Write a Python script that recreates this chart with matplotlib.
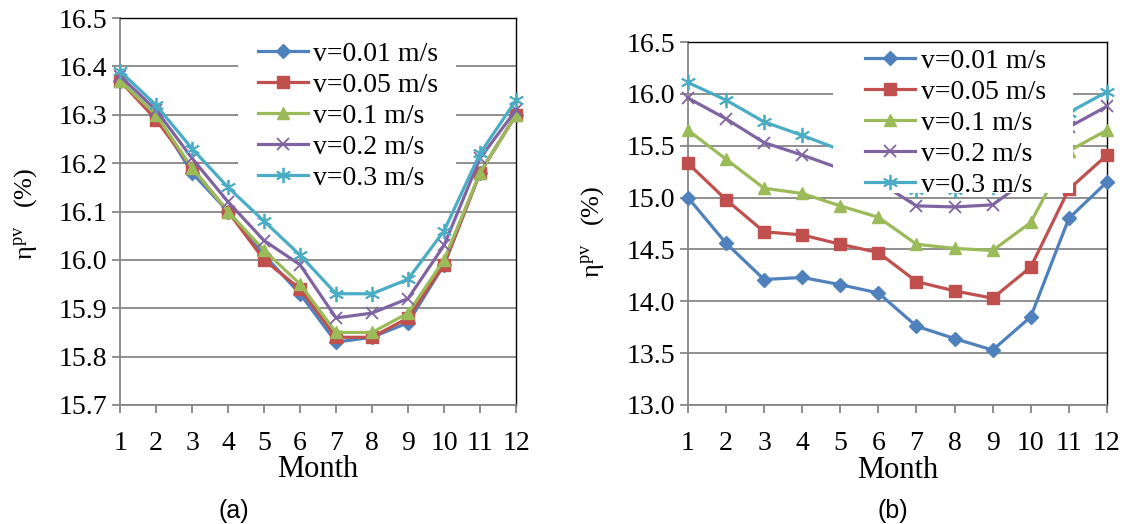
import numpy as np
import matplotlib
matplotlib.use('Agg')
import matplotlib.pyplot as plt
from matplotlib.patches import Rectangle
from matplotlib.ticker import MultipleLocator, FormatStrFormatter

# ─── Data ────────────────────────────────────────────────────────────────
months = list(range(1, 13))
labels = ["v=0.01 m/s", "v=0.05 m/s", "v=0.1 m/s", "v=0.2 m/s", "v=0.3 m/s"]

# panel (a)
a_v001 = [16.37, 16.30, 16.18, 16.10, 16.01, 15.93, 15.83, 15.84, 15.87, 15.99, 16.18, 16.30]
a_v005 = [16.37, 16.29, 16.19, 16.10, 16.00, 15.94, 15.84, 15.84, 15.88, 15.99, 16.18, 16.30]
a_v01 = [16.37, 16.30, 16.19, 16.10, 16.02, 15.95, 15.85, 15.85, 15.89, 16.00, 16.18, 16.30]
a_v02 = [16.38, 16.31, 16.21, 16.12, 16.04, 15.99, 15.88, 15.89, 15.92, 16.03, 16.21, 16.31]
a_v03 = [16.39, 16.32, 16.23, 16.15, 16.08, 16.01, 15.93, 15.93, 15.96, 16.06, 16.22, 16.33]

# panel (b)
b_v001 = [15.00, 14.56, 14.21, 14.23, 14.16, 14.08, 13.76, 13.64, 13.53, 13.85, 14.80, 15.15]
b_v005 = [15.33, 14.98, 14.67, 14.64, 14.55, 14.47, 14.19, 14.10, 14.03, 14.33, 15.08, 15.41]
b_v01 = [15.65, 15.37, 15.09, 15.04, 14.92, 14.81, 14.55, 14.51, 14.49, 14.76, 15.45, 15.65]
b_v02 = [15.96, 15.76, 15.53, 15.41, 15.28, 15.15, 14.92, 14.91, 14.93, 15.20, 15.68, 15.88]
b_v03 = [16.11, 15.94, 15.73, 15.60, 15.46, 15.30, 15.07, 15.07, 15.10, 15.40, 15.82, 16.02]

# ─── Styles (Excel 2010 palette) ────────────────────────────────────────
COLORS = ['#4F81BD', '#C0504D', '#9BBB59', '#8064A2', '#4BACC6']
MARKERS = ['D', 's', '^', 'x', (6, 2, 0)]
MSIZES = [7, 8.5, 9, 9, 11]
GRAY = '#868686'
FS = 20

plt.rcParams['font.family'] = ['Liberation Serif', 'DejaVu Serif']
plt.rcParams['mathtext.fontset'] = 'stix'

fig = plt.figure(figsize=(11.23, 5.24), dpi=100)
ax_a = fig.add_axes([0.1069, 0.2271, 0.3526, 0.7385])
ax_b = fig.add_axes([0.6126, 0.2271, 0.3731, 0.6927])


def draw(ax, series, ylim, ystep, leg_anchor, leg_pad, box):
    for s, c, m, ms, lab in zip(series, COLORS, MARKERS, MSIZES, labels):
        mew = 1.3 if m == 'x' or isinstance(m, tuple) else 1
        ax.plot(months, s, color=c, marker=m, markersize=ms, linewidth=2.3,
                markeredgewidth=mew, label=lab, zorder=3, clip_on=False)

    ax.set_xlim(1, 12)
    ax.set_ylim(*ylim)
    ax.set_xticks(months)
    ax.yaxis.set_major_locator(MultipleLocator(ystep))
    ax.yaxis.set_major_formatter(FormatStrFormatter('%.1f'))
    ax.grid(True, axis='y', color=GRAY, linewidth=1.3, zorder=0)
    ax.set_axisbelow(True)

    for side in ('left', 'bottom'):
        ax.spines[side].set_color(GRAY)
        ax.spines[side].set_linewidth(1.3)
    for side in ('top', 'right'):
        ax.spines[side].set_color('black')
        ax.spines[side].set_linewidth(1.0)

    ax.tick_params(axis='both', direction='out', color=GRAY, width=1.3,
                   length=6, labelsize=FS, labelcolor='black')
    ax.tick_params(axis='x', pad=13)
    ax.tick_params(axis='y', pad=3)

    ax.set_xlabel("Month", fontsize=22)
    ax.set_ylabel(r'$\mathregular{\eta^{pv}\quad}$(%)', fontsize=19)

    # white legend area (Excel style, covers gridlines and series)
    x0, y0, x1, y1 = box
    ax.add_patch(Rectangle((x0, y0), x1 - x0, y1 - y0, transform=ax.transAxes,
                           facecolor='white', edgecolor='none', zorder=4))

    leg = ax.legend(loc='upper left', bbox_to_anchor=leg_anchor, fontsize=FS,
                    frameon=False, handlelength=1.8, handletextpad=0.2,
                    labelspacing=0.2, borderpad=leg_pad, borderaxespad=0)
    leg.set_zorder(5)


draw(ax_a, [a_v001, a_v005, a_v01, a_v02, a_v03], (15.7, 16.5), 0.1,
     (0.313, 0.975), 0.5, (0.298, 0.545, 0.848, 0.969))
draw(ax_b, [b_v001, b_v005, b_v01, b_v02, b_v03], (13.0, 16.5), 0.5,
     (0.41, 0.998), 0.2, (0.346, 0.584, 0.919, 0.992))

ax_a.yaxis.set_label_coords(-0.205, 0.494)
ax_b.yaxis.set_label_coords(-0.195, 0.477)
ax_a.xaxis.set_label_coords(0.5, -0.128)
ax_b.xaxis.set_label_coords(0.5, -0.14)

fig.text(234 / 1123, 1 - 511 / 524, "(a)", family='Liberation Sans',
         fontsize=18, ha='center', va='center')
fig.text(893 / 1123, 1 - 511 / 524, "(b)", family='Liberation Sans',
         fontsize=18, ha='center', va='center')

fig.savefig("out.png", dpi=100)
